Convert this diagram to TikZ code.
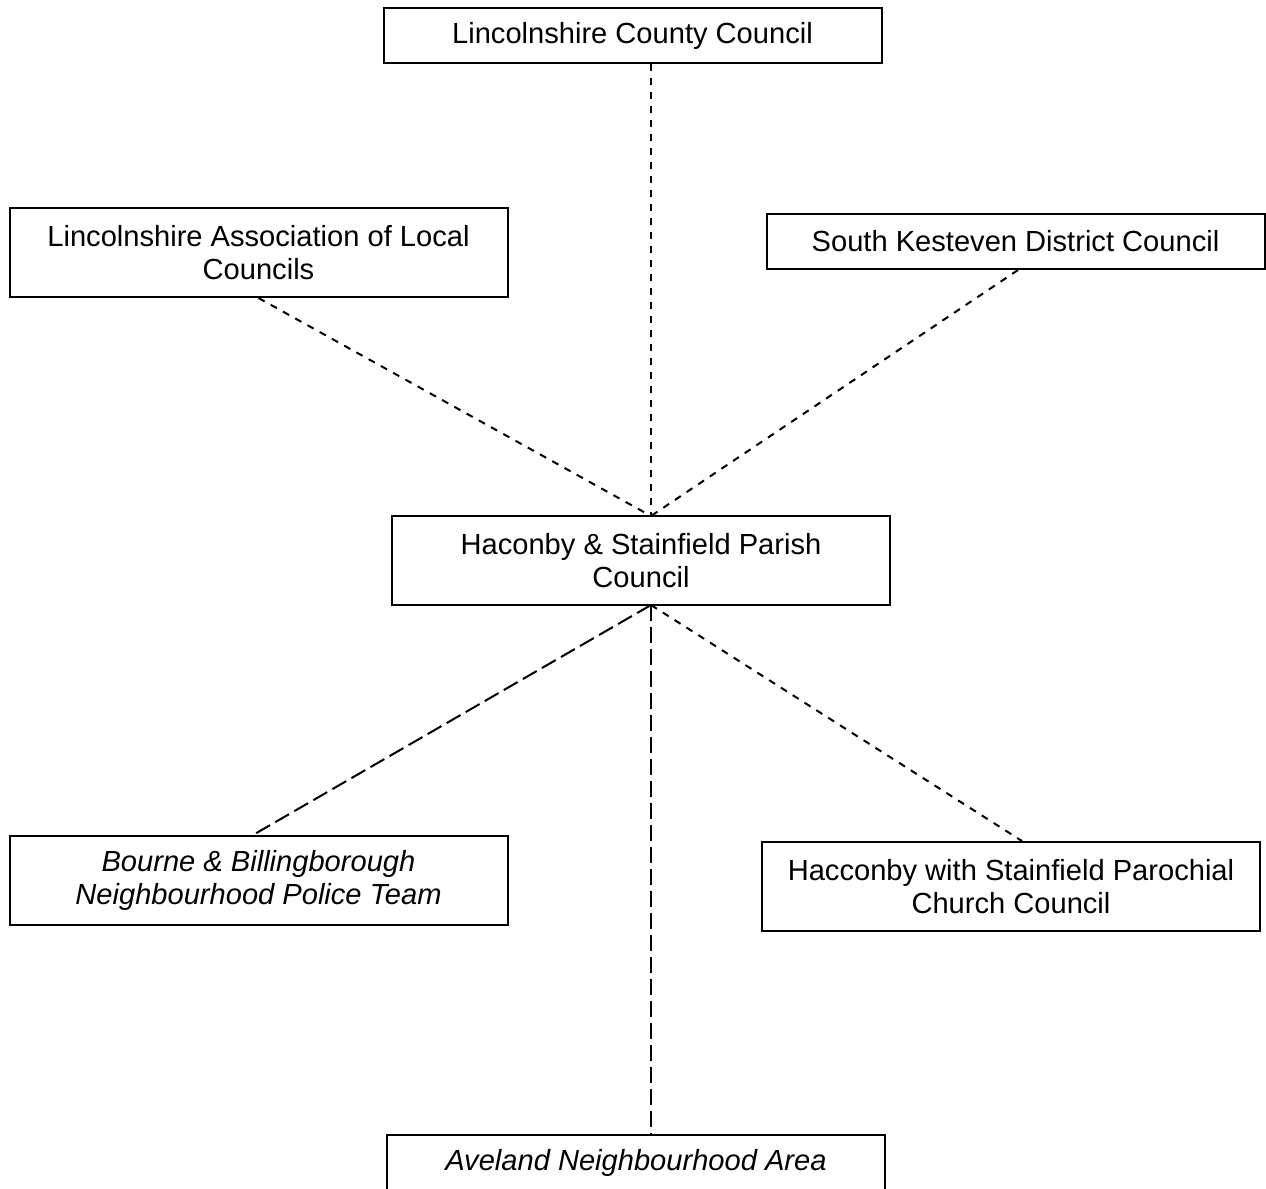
\documentclass[tikz,border=0pt]{standalone}
\usepackage{fontspec}
\setmainfont{Liberation Sans}
\usepackage{tikz}
\usetikzlibrary{calc}

\begin{document}
\begin{tikzpicture}[x=0.5pt,y=-0.5pt,
    box/.style={draw,line width=1pt,minimum width=249pt,align=center,inner sep=0pt,
      font=\fontsize{14.55}{16.75}\selectfont},
    onerow/.style={box,minimum height=27.5pt},
    tworow/.style={box,minimum height=44.5pt},
    shortdash/.style={line width=1pt,dash pattern=on 3.5pt off 3.5pt},
    longdash/.style={line width=1pt,dash pattern=on 8pt off 3pt}]
  \useasboundingbox (0,0) rectangle (1266,1189);

  \coordinate (hubtop) at (651,516);
  \coordinate (hubbot) at (651,605);

  % Kasteliai
  \node[onerow] (lcc) at (632.5,35.5) {Lincolnshire County Council};
  \node[tworow] (lalc) at (258.5,252.5) {Lincolnshire Association of Local\\Councils};
  \node[onerow] (skdc) at (1015.5,241.5) {South Kesteven District Council};
  \node[tworow] (hspc) at (641,560.5) {Haconby \& Stainfield Parish\\Council};
  \node[tworow] (bbnpt) at (258.5,880.5) {\itshape Bourne \& Billingborough\\\itshape Neighbourhood Police Team};
  \node[tworow] (pcc) at (1011,886.5) {Hacconby with Stainfield Parochial\\Church Council};
  \node[onerow] (ana) at (636,1162.5) {\itshape Aveland Neighbourhood Area};

  % Virsutines jungtys
  \draw[shortdash] (lcc.south -| hubtop) -- (hubtop);
  \draw[shortdash] (lalc.south) -- (hubtop);
  \draw[shortdash] ([xshift=1.25pt]skdc.south) -- (hubtop);

  % Apatines jungtys
  \draw[longdash] (hubbot) -- ([xshift=-2.75pt]bbnpt.north);
  \draw[shortdash] (hubbot) -- ([xshift=5.5pt]pcc.north);
  \draw[longdash] (hubbot) -- (ana.north -| hubbot);
\end{tikzpicture}
\end{document}
